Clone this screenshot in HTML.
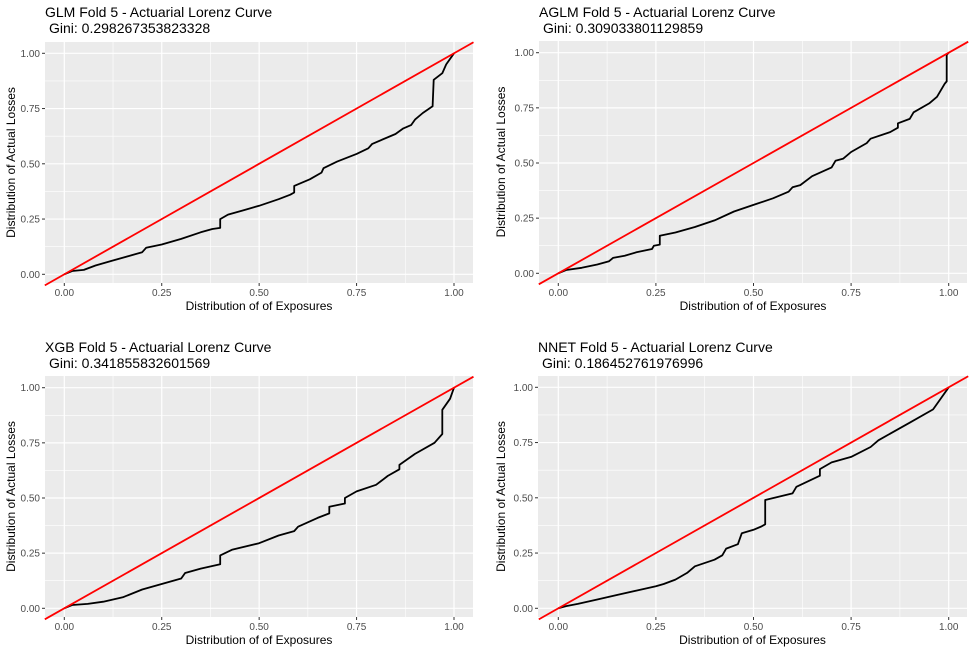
<!DOCTYPE html>
<html><head><meta charset="utf-8"><style>
body{margin:0;background:#fff;}
svg{display:block;font-family:"Liberation Sans",Arial,sans-serif;}
</style></head><body>
<svg id="s" width="974" height="655"></svg>
<script>
const ticks=[0,0.25,0.5,0.75,1];
const tickLabels=["0.00","0.25","0.50","0.75","1.00"];
const titles=["GLM Fold 5 - Actuarial Lorenz Curve","AGLM Fold 5 - Actuarial Lorenz Curve","XGB Fold 5 - Actuarial Lorenz Curve","NNET Fold 5 - Actuarial Lorenz Curve"];
const ginis=["0.298267353823328","0.309033801129859","0.341855832601569","0.186452761976996"];
const glmX=[0,0.02,0.05,0.08,0.12,0.16,0.2,0.21,0.25,0.3,0.35,0.38,0.4,0.4,0.42,0.46,0.5,0.55,0.58,0.59,0.59,0.63,0.66,0.665,0.7,0.75,0.78,0.79,0.85,0.87,0.89,0.9,0.92,0.945,0.948,0.97,0.98,1];
const glmY=[0,0.015,0.02,0.04,0.06,0.08,0.1,0.12,0.135,0.16,0.19,0.205,0.21,0.25,0.27,0.29,0.31,0.34,0.36,0.37,0.4,0.43,0.46,0.48,0.51,0.545,0.57,0.59,0.635,0.66,0.675,0.7,0.73,0.76,0.88,0.91,0.95,1];
const aglmX=[0,0.02,0.06,0.1,0.13,0.14,0.17,0.2,0.24,0.245,0.26,0.26,0.3,0.35,0.4,0.45,0.5,0.55,0.59,0.6,0.62,0.65,0.7,0.71,0.73,0.75,0.79,0.8,0.85,0.87,0.87,0.9,0.91,0.95,0.97,0.99,0.995,0.995,1];
const aglmY=[0,0.015,0.025,0.04,0.055,0.07,0.08,0.095,0.11,0.125,0.13,0.17,0.185,0.21,0.24,0.28,0.31,0.34,0.37,0.39,0.4,0.44,0.48,0.51,0.52,0.55,0.59,0.61,0.64,0.66,0.68,0.7,0.73,0.77,0.8,0.86,0.87,0.99,1];
const xgbX=[0,0.02,0.06,0.1,0.15,0.2,0.25,0.3,0.31,0.35,0.4,0.4,0.43,0.5,0.55,0.59,0.6,0.65,0.68,0.68,0.72,0.72,0.75,0.8,0.83,0.86,0.86,0.9,0.95,0.97,0.97,0.99,1];
const xgbY=[0,0.015,0.02,0.03,0.05,0.085,0.11,0.135,0.16,0.18,0.2,0.24,0.265,0.295,0.33,0.35,0.37,0.41,0.43,0.46,0.475,0.5,0.53,0.56,0.6,0.63,0.65,0.7,0.75,0.79,0.9,0.95,1];
const nnetX=[0,0.02,0.05,0.1,0.15,0.2,0.25,0.27,0.3,0.33,0.35,0.4,0.42,0.43,0.46,0.47,0.5,0.52,0.53,0.53,0.6,0.61,0.67,0.67,0.7,0.75,0.8,0.82,0.9,0.96,0.98,1];
const nnetY=[0,0.01,0.02,0.04,0.06,0.08,0.1,0.11,0.13,0.16,0.19,0.22,0.24,0.27,0.29,0.34,0.355,0.37,0.38,0.49,0.52,0.55,0.6,0.63,0.66,0.685,0.73,0.76,0.84,0.9,0.95,1];
const seriesX=[glmX,aglmX,xgbX,nnetX], seriesY=[glmY,aglmY,xgbY,nnetY];
const names=["glm","aglm","xgb","nnet"];
const panels=[
 {ox:0,oy:0,l:45,r:473,t:42,b:283,x0:64.3,x1:454,y0:274.3,y1:53.3},
 {ox:490,oy:0,l:539,r:967,t:41,b:283,x0:558.3,x1:948.7,y0:273.3,y1:52.7},
 {ox:0,oy:335,l:45,r:473,t:376,b:617,x0:64.3,x1:454,y0:608.3,y1:387.7},
 {ox:490,oy:335,l:538,r:967,t:376,b:617,x0:558.3,x1:948.7,y0:608.3,y1:387.3}];
const S=document.getElementById('s'),NS="http://www.w3.org/2000/svg";
function mk(tag,attrs,parent,txt){const e=document.createElementNS(NS,tag);for(const k in attrs)e.setAttribute(k,attrs[k]);if(txt!==undefined)e.textContent=txt;(parent||S).appendChild(e);return e;}
panels.forEach((p,i)=>{
 const X=v=>p.x0+v*(p.x1-p.x0), Y=v=>p.y0+v*(p.y1-p.y0);
 const g=mk('g',{});
 
 
 const bg=mk('rect',{x:p.l,y:p.t,width:p.r-p.l,height:p.b-p.t,fill:'#ebebeb'},g);
 
 
 for(let k=0;k<4;k++){const m=(ticks[k]+ticks[k+1])/2;
  mk('line',{x1:X(m),x2:X(m),y1:p.t,y2:p.b,stroke:'#fff','stroke-width':0.6},g);
  mk('line',{x1:p.l,x2:p.r,y1:Y(m),y2:Y(m),stroke:'#fff','stroke-width':0.6},g);}
 ticks.forEach((t,k)=>{
  mk('line',{x1:X(t),x2:X(t),y1:p.t,y2:p.b,stroke:'#fff','stroke-width':1.2},g);
  mk('line',{x1:p.l,x2:p.r,y1:Y(t),y2:Y(t),stroke:'#fff','stroke-width':1.2},g);
  mk('line',{x1:X(t),x2:X(t),y1:p.b,y2:p.b+3,stroke:'#333'},g);
  mk('line',{x1:p.l-3,x2:p.l,y1:Y(t),y2:Y(t),stroke:'#333'},g);
  const xl=mk('text',{x:X(t),y:p.b+13,'font-size':10,fill:'#4d4d4d','text-anchor':'middle'},g,tickLabels[k]);
  
  
  const yl=mk('text',{x:p.l-5,y:Y(t)+3.5,'font-size':10,fill:'#4d4d4d','text-anchor':'end'},g,tickLabels[k]);
  
  
 });
 const pts=seriesX[i].map((x,k)=>X(x).toFixed(1)+','+Y(seriesY[i][k]).toFixed(1)).join(' ');
 const cl=mk('polyline',{points:pts,fill:'none',stroke:'#000','stroke-width':1.8,'stroke-linejoin':'round'},g);
 
 
 const eq=mk('line',{x1:X(-0.05),y1:Y(-0.05),x2:X(1.05),y2:Y(1.05),stroke:'#ff0000','stroke-width':1.8},g);
 
 
 const t1=mk('text',{x:p.l,y:p.oy+17,'font-size':14,fill:'#000'},g,titles[i]);
 
 
 const t2=mk('text',{x:p.l+4,y:p.oy+33,'font-size':14,fill:'#000'},g,'Gini: '+ginis[i]);
 
 
 const xt=mk('text',{x:(p.l+p.r)/2,y:p.b+27,'font-size':12,fill:'#000','text-anchor':'middle'},g,'Distribution of of Exposures');
 
 
 const yx=p.ox+15, yy=(p.t+p.b)/2;
 const yt=mk('text',{x:yx,y:yy,'font-size':12,fill:'#000','text-anchor':'middle',transform:`rotate(-90 ${yx} ${yy})`},g,'Distribution of Actual Losses');
 
 
});
</script>
</body></html>
